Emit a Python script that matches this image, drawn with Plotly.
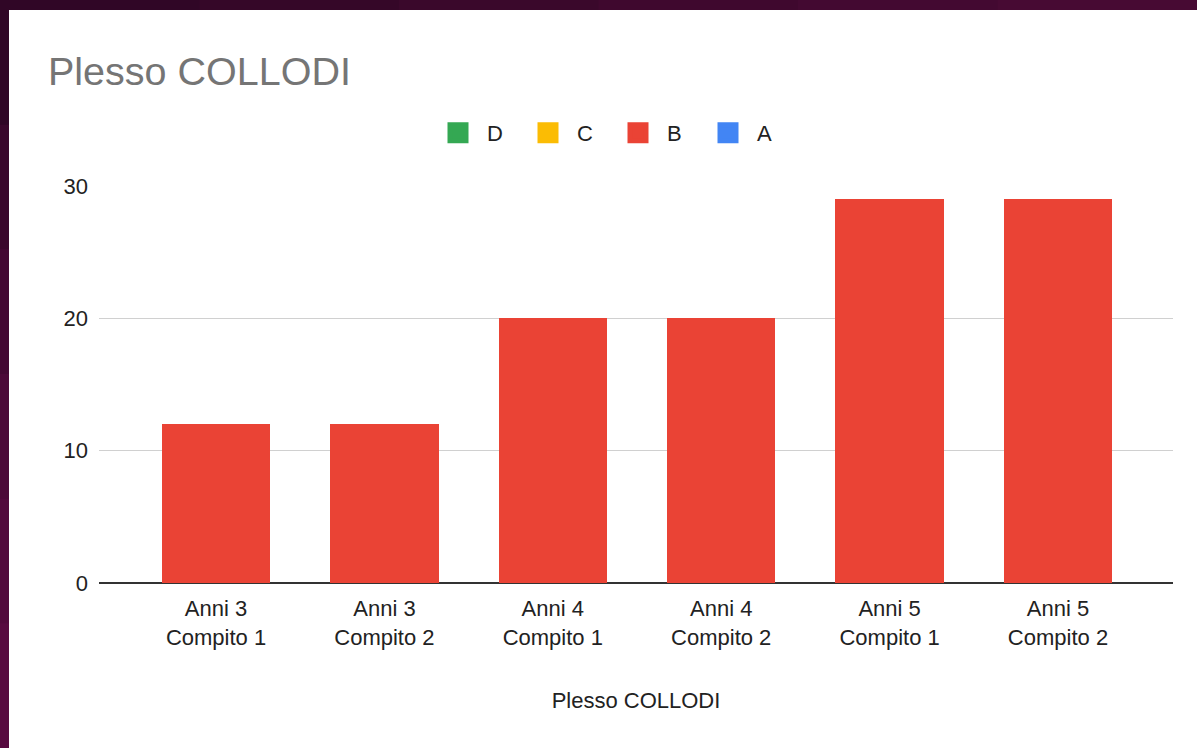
import plotly.graph_objects as go

categories = ["Anni 3<br>Compito 1", "Anni 3<br>Compito 2", "Anni 4<br>Compito 1",
              "Anni 4<br>Compito 2", "Anni 5<br>Compito 1", "Anni 5<br>Compito 2"]
series_names = ["D", "C", "B", "A"]
values_D = [0, 0, 0, 0, 0, 0]
values_C = [0, 0, 0, 0, 0, 0]
values_B = [12, 12, 20, 20, 29, 29]
values_A = [0, 0, 0, 0, 0, 0]
y_ticks = [0, 10, 20, 30]

colors = {"D": "#34a853", "C": "#fbbc04", "B": "#ea4335", "A": "#4285f4"}
series_values = {"D": values_D, "C": values_C, "B": values_B, "A": values_A}

FONT = "Arial, Liberation Sans, sans-serif"
W, H = 1197, 748
L, R, T, B = 99, 24, 186, 165
PW, PH = W - L - R, H - T - B

def px_x(px):
    return (px - L) / PW

def px_y(py):
    return (H - B - py) / PH

fig = go.Figure()
for name in series_names:
    fig.add_trace(go.Bar(
        x=categories, y=series_values[name], name=name, legendgroup=name,
        showlegend=False,
        marker=dict(color=colors[name], line=dict(width=0)),
        hoverinfo="x+y+name",
    ))
# legend entries (larger square swatches like the original)
for name in series_names:
    fig.add_trace(go.Scatter(
        x=[None], y=[None], name=name, legendgroup=name, mode="markers",
        marker=dict(symbol="square", size=16, color=colors[name],
                    line=dict(width=5, color=colors[name])),
        showlegend=True, hoverinfo="skip",
    ))

shapes = []
# white card over dark purple background
shapes.append(dict(type="rect", xref="paper", yref="paper", layer="below",
                   x0=px_x(9), x1=px_x(W + 5), y0=px_y(H + 5), y1=px_y(10),
                   fillcolor="white", line=dict(width=0)))
# subtle gradient on the border
top_cols = ["#300626", "#350728", "#3a082b", "#3f082e", "#430931", "#470a33"]
seg = W / len(top_cols)
for i, c in enumerate(top_cols):
    shapes.append(dict(type="rect", xref="paper", yref="paper", layer="below",
                       x0=px_x(i * seg), x1=px_x((i + 1) * seg + 1), y0=px_y(10), y1=px_y(-2),
                       fillcolor=c, line=dict(width=0)))
left_cols = ["#300626", "#3a072c", "#440833", "#4c0938", "#52093c", "#580a40"]
seg = H / len(left_cols)
for i, c in enumerate(left_cols):
    shapes.append(dict(type="rect", xref="paper", yref="paper", layer="below",
                       x0=px_x(-2), x1=px_x(9), y0=px_y((i + 1) * seg + 1), y1=px_y(max(i * seg, 10)),
                       fillcolor=c, line=dict(width=0)))

fig.update_layout(
    width=W, height=H,
    margin=dict(l=L, r=R, t=T, b=B, autoexpand=False),
    paper_bgcolor="#3d0830",
    plot_bgcolor="white",
    barmode="stack",
    bargap=0.356,
    font=dict(family=FONT, size=23, color="#222222"),
    title=dict(text="Plesso COLLODI", x=48 / W, xref="container", xanchor="left",
               y=1 - 71 / H, yref="container", yanchor="middle",
               font=dict(family=FONT, size=39.5, color="#757575")),
    legend=dict(orientation="h", x=px_x(429), xanchor="left", y=px_y(133), yanchor="middle",
                traceorder="normal", font=dict(size=22, color="#222222"),
                itemwidth=48, entrywidth=27, itemsizing="trace",
                bgcolor="rgba(0,0,0,0)"),
    shapes=shapes,
    xaxis=dict(
        range=[-0.695, 5.683],
        showgrid=False, showline=False, zeroline=False,
        ticks="", ticklabelstandoff=10,
        tickfont=dict(size=22, color="#222222"),
        title=dict(text="Plesso COLLODI", font=dict(size=22, color="#222222"), standoff=44),
        automargin=False,
    ),
    yaxis=dict(
        range=[0, 30], tickvals=y_ticks,
        showgrid=True, gridcolor="#d0d0d0", gridwidth=1,
        zeroline=True, zerolinecolor="#333333", zerolinewidth=1.5,
        showline=False, ticks="", ticklabelstandoff=10,
        tickfont=dict(size=22, color="#222222"),
        automargin=False,
    ),
)

fig.write_html("out.html", config={"displayModeBar": False},
               post_script="document.body.style.margin='0';document.body.style.overflow='hidden';")
